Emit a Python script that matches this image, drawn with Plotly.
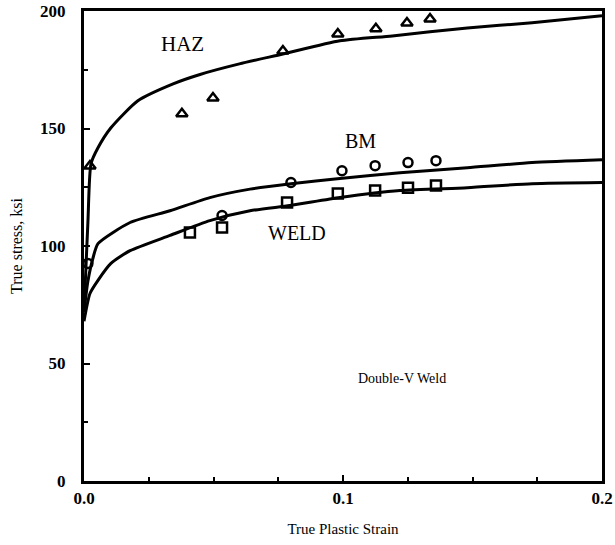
import plotly.graph_objects as go

# Fitted curves
haz_x = [0.0, 0.0015, 0.0027, 0.0054, 0.0104, 0.0208, 0.0344, 0.0448, 0.06, 0.0768, 0.0988, 0.119, 0.148, 0.173, 0.2]
haz_y = [72, 110, 135, 141.8, 150.3, 161.8, 169, 173, 177.5, 181.7, 187.3, 189.4, 192.8, 195, 198]
bm_x = [0.0, 0.0015, 0.0035, 0.0054, 0.0178, 0.0332, 0.0486, 0.0641, 0.0799, 0.0988, 0.122, 0.148, 0.173, 0.2]
bm_y = [72, 85, 95, 101, 110, 115, 120.6, 124.2, 126.5, 128.7, 131.2, 133.3, 135.5, 136.7]
weld_x = [0.0, 0.0023, 0.0054, 0.0104, 0.0178, 0.0332, 0.0486, 0.0641, 0.0795, 0.0988, 0.122, 0.148, 0.173, 0.2]
weld_y = [68, 79.8, 85.4, 92.6, 98, 104.5, 110.8, 115, 117.2, 120.6, 123.6, 124.8, 126.5, 127]

# Test points
haz_pts_x = [0.0023, 0.0378, 0.0498, 0.0768, 0.098, 0.1127, 0.1247, 0.1336]
haz_pts_y = [134, 156.3, 163, 183, 190.2, 192.4, 194.9, 196.6]
bm_pts_x = [0.0015, 0.0533, 0.0799, 0.0996, 0.1124, 0.1251, 0.1359]
bm_pts_y = [92.6, 113, 127, 132, 134.2, 135.5, 136.3]
weld_pts_x = [0.0409, 0.0533, 0.0784, 0.098, 0.1124, 0.1251, 0.1359]
weld_pts_y = [105.7, 107.9, 118.5, 122.3, 123.6, 124.8, 125.7]

x_ticks = [0.0, 0.1, 0.2]
y_ticks = [0, 50, 100, 150, 200]

SERIF = "Liberation Serif"

fig = go.Figure()
for cx, cy in [(haz_x, haz_y), (bm_x, bm_y), (weld_x, weld_y)]:
    fig.add_trace(go.Scatter(x=cx, y=cy, mode="lines",
                             line=dict(color="black", width=3, shape="spline", smoothing=0.6),
                             showlegend=False, hoverinfo="skip"))

for px, py, sym, sz in [(haz_pts_x, haz_pts_y, "triangle-up-open", 10),
                        (bm_pts_x, bm_pts_y, "circle-open", 9),
                        (weld_pts_x, weld_pts_y, "square-open", 10)]:
    fig.add_trace(go.Scatter(x=px, y=py, mode="markers",
                             marker=dict(symbol=sym, size=sz, color="black",
                                         line=dict(color="black", width=2.5)),
                             cliponaxis=False, showlegend=False))

annos = [("HAZ", 0.0382, 186, 21), ("BM", 0.1066, 144.8, 20),
         ("WELD", 0.0822, 105.7, 20), ("Double-V Weld", 0.1228, 43.7, 14)]
for t, ax_, ay_, fs in annos:
    fig.add_annotation(x=ax_, y=ay_, text=t, showarrow=False,
                       font=dict(family=SERIF, size=fs, color="black"))

fig.update_layout(
    width=615, height=545,
    margin=dict(l=84, r=13, t=11, b=64),
    plot_bgcolor="white", paper_bgcolor="white",
    font=dict(family=SERIF, color="black"),
)
fig.update_xaxes(
    range=[0, 0.2], tickvals=x_ticks, tickformat=".1f", automargin=False,
    showgrid=False, zeroline=False,
    showline=True, linecolor="black", linewidth=3, mirror=True,
    ticks="inside", ticklen=6, tickwidth=2, tickcolor="black",
    minor=dict(ticks="inside", ticklen=4, tickwidth=2, tickcolor="black", dtick=0.025),
    tickfont=dict(family=SERIF, size=17, color="black", weight="bold"),
    ticklabelstandoff=0,
    title=dict(text="True Plastic Strain", font=dict(family=SERIF, size=15, color="black"), standoff=17),
)
fig.update_yaxes(
    range=[0, 200], tickvals=y_ticks, automargin=False,
    showgrid=False, zeroline=False,
    showline=True, linecolor="black", linewidth=3, mirror=True,
    ticks="inside", ticklen=6, tickwidth=2, tickcolor="black",
    minor=dict(ticks="inside", ticklen=4, tickwidth=2, tickcolor="black", dtick=25),
    tickfont=dict(family=SERIF, size=17, color="black", weight="bold"),
    ticklabelstandoff=12,
    title=dict(text="True stress, ksi", font=dict(family=SERIF, size=16, color="black"), standoff=14),
)

fig.write_html("out.html", config={"displayModeBar": False})

# remove the default page margin so the figure sits at the window's top-left corner
with open("out.html", "r", encoding="utf-8") as f:
    html = f.read()
html = html.replace("<head>", "<head><style>html,body{margin:0;padding:0;overflow:hidden;}</style>", 1)
with open("out.html", "w", encoding="utf-8") as f:
    f.write(html)
